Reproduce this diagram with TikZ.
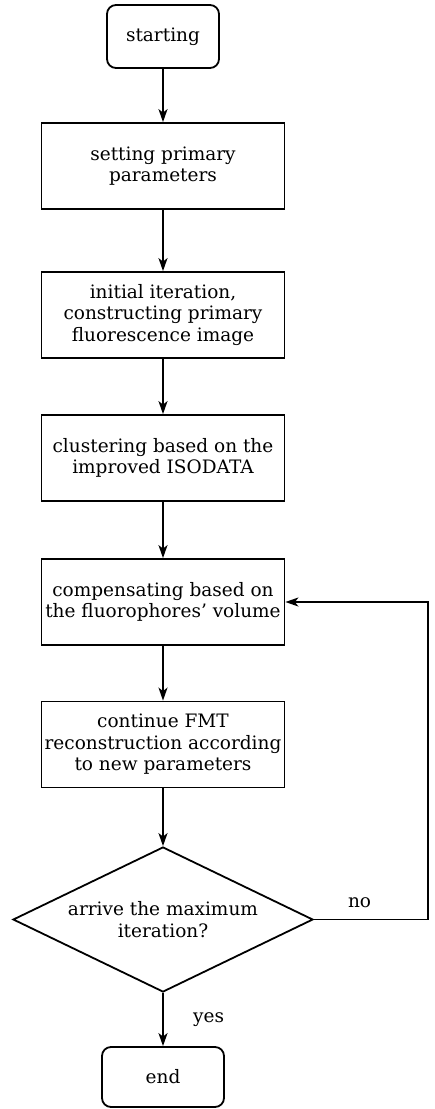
\documentclass[tikz,border=0pt]{standalone}
\usepackage{fontspec}
\setmainfont{DejaVu Serif}
\usetikzlibrary{shapes.geometric,arrows.meta}

\tikzstyle{flowbox} = [draw, line width=1.8bp, rectangle, align=center,
    minimum width=243bp, minimum height=86bp, inner sep=0pt]
\tikzstyle{termbox} = [draw, line width=1.8bp, rectangle, rounded corners=9bp,
    align=center, inner sep=2bp]
\tikzstyle{decision} = [draw, line width=1.8bp, diamond, aspect=2.07, align=center,
    minimum width=300bp, minimum height=145bp, inner sep=0pt]
\tikzstyle{flowline} = [-{Stealth[length=13bp,width=9bp,inset=3.5bp]}, line width=1.8bp]

\begin{document}
\begin{tikzpicture}[x=1bp, y=-1bp, font=\fontsize{18.5bp}{21.5bp}\selectfont]
\useasboundingbox (0,0) rectangle (435,1109);

\node [termbox, minimum width=112bp, minimum height=63bp] (start) at (163,36.5) {starting};
\node [flowbox] (setting) at (163,166) {setting primary\\parameters};
\node [flowbox] (initial) at (163,315) {initial iteration,\\constructing primary\\fluorescence image};
\node [flowbox] (cluster) at (163,458) {clustering based on the\\improved ISODATA};
\node [flowbox] (compens) at (163,602) {compensating based on\\the fluorophores' volume};
\node [flowbox] (continue) at (163,744.5) {continue FMT\\reconstruction according\\to new parameters};
\node [decision] (check) at (163,919.5) {arrive the maximum\\iteration?};
\node [termbox, minimum width=122bp, minimum height=60bp] (stop) at (163,1077) {end};

\coordinate (turn) at (428,919.5);

\draw [flowline] (start) -- (setting);
\draw [flowline] (setting) -- (initial);
\draw [flowline] (initial) -- (cluster);
\draw [flowline] (cluster) -- (compens);
\draw [flowline] (compens) -- (continue);
\draw [flowline] (continue) -- (check);
\draw [flowline] (check) -- node [right=26bp] (yeslbl) {yes} (stop);
\draw [flowline] (check.east) -- node [above=8bp, pos=0.4] (nolbl) {no} (turn) |- (compens.east);
\end{tikzpicture}
\end{document}
